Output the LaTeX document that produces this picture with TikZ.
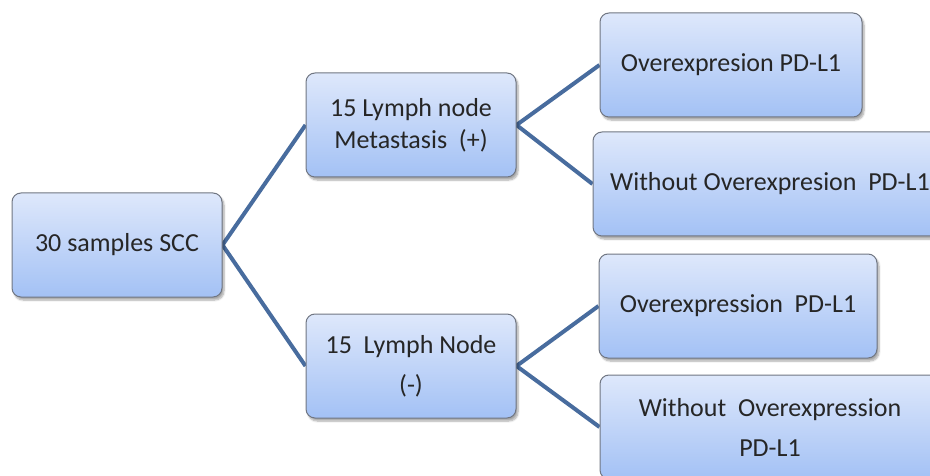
\documentclass[tikz,border=0pt]{standalone}
\usepackage{fontspec}
\setmainfont{Carlito}
\usetikzlibrary{shadows.blur,backgrounds}

\definecolor{linkblue}{RGB}{72,108,158}
\definecolor{boxtop}{RGB}{222,232,251}
\definecolor{boxbottom}{RGB}{163,193,245}
\definecolor{boxedge}{RGB}{112,118,130}

\begin{document}
\begin{tikzpicture}[x=1pt,y=-1pt,
	box/.style={draw=boxedge,line width=1pt,rounded corners=9pt,top color=boxtop,bottom color=boxbottom,
		minimum height=104pt,align=center,text=black!85,font=\fontsize{26}{32}\selectfont,
		blur shadow={shadow xshift=2pt,shadow yshift=-3pt,shadow blur steps=6,shadow opacity=35}},
	loose/.style={font=\fontsize{26}{40}\selectfont},
	link/.style={draw=linkblue,line width=4pt}]
	\useasboundingbox (0,0) rectangle (930,476);

	% samples
	\node[box,minimum width=210pt] (scc) at (117,245) {30 samples SCC};

	% lymph node status
	\node[box,minimum width=210pt] (pos) at (411,125) {15 Lymph node\\Metastasis\ \ (+)};
	\node[box,loose,minimum width=210pt] (neg) at (411,366) {15\ \ Lymph Node\\(-)};

	% PD-L1 expression
	\node[box,minimum width=262pt] (posover) at (731,65) {Overexpresion PD-L1};
	\node[box,minimum width=354pt] (poswithout) at (770,184) {Without Overexpresion\ \ PD-L1};
	\node[box,minimum width=278pt] (negover) at (738,306) {Overexpression\ \ PD-L1};
	\node[box,loose,minimum width=340pt] (negwithout) at (770,427) {Without\ \ Overexpression\\PD-L1};

	\begin{scope}[on background layer]
		\draw[link] (scc.east) -- (pos.west);
		\draw[link] (scc.east) -- (neg.west);
		\draw[link] (pos.east) -- (posover.west);
		\draw[link] (pos.east) -- (poswithout.west);
		\draw[link] (neg.east) -- (negover.west);
		\draw[link] (neg.east) -- (negwithout.west);
	\end{scope}
\end{tikzpicture}
\end{document}
